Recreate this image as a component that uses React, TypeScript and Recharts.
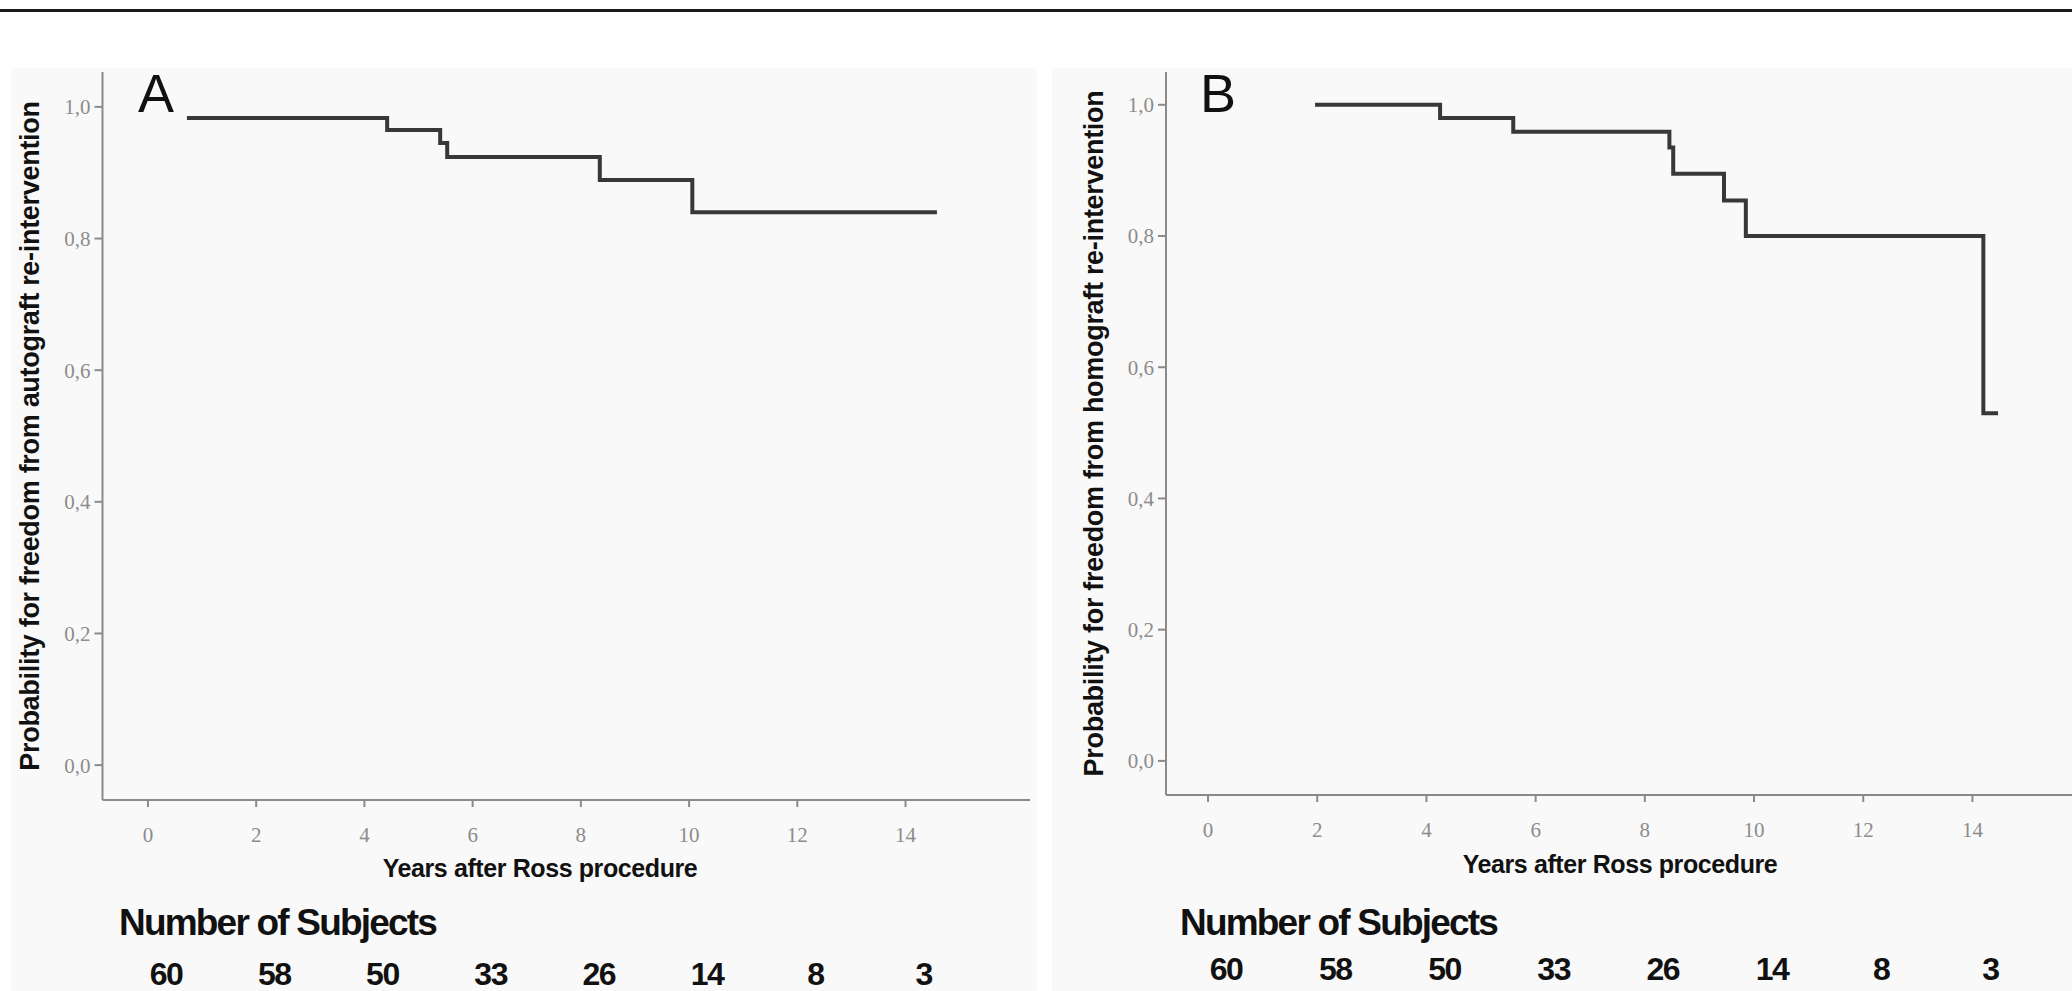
import React from 'react';
import { LineChart, Line, XAxis, YAxis } from 'recharts';

// Kaplan-Meier steps
const A_TIMES = [0.72, 4.42, 5.4, 5.53, 8.35, 10.06, 14.58];
const A_SURV = [0.983, 0.965, 0.945, 0.924, 0.889, 0.84, 0.84];
const B_TIMES = [1.96, 4.25, 5.59, 8.45, 8.52, 9.45, 9.85, 14.2, 14.47];
const B_SURV = [1.0, 0.98, 0.959, 0.935, 0.895, 0.854, 0.8, 0.53, 0.53];

const YEAR_TICKS = [0, 2, 4, 6, 8, 10, 12, 14];
const Y_TICKS = [0, 0.2, 0.4, 0.6, 0.8, 1.0];
const SUBJECTS_A = [60, 58, 50, 33, 26, 14, 8, 3];
const SUBJECTS_B = [60, 58, 50, 33, 26, 14, 8, 3];

const AXIS = '#8a8a8a';
const SANS = '"Liberation Sans", Arial, sans-serif';
const SERIF = '"Liberation Serif", "Times New Roman", serif';

const toRows = (t: number[], s: number[]) => t.map((x, i) => ({ t: x, s: s[i] }));

function YearTick(props: any) {
  const { x, y, payload, counts } = props;
  const idx = YEAR_TICKS.indexOf(payload.value);
  return (
    <g>
      <text x={x} y={y + 22} textAnchor="middle" dominantBaseline="central" fill="#8c8c8c" fontFamily={SERIF} fontSize={21}>
        {payload.value}
      </text>
      {idx >= 0 && (
        <text x={x + 18} y={y + 161} textAnchor="middle" dominantBaseline="central" fill="#111" fontFamily={SANS} fontWeight="bold" fontSize={32} letterSpacing={-1.5}>
          {counts[idx]}
        </text>
      )}
    </g>
  );
}

interface PanelProps {
  left: number;
  width: number;
  marginLeft: number;
  marginRight: number;
  axisY: number;
  xDomain: [number, number];
  yDomain: [number, number];
  rows: { t: number; s: number }[];
  counts: number[];
  yTitle: string;
}

function Panel(p: PanelProps) {
  const H = 991;
  return (
    <div style={{ position: 'absolute', left: p.left, top: 0 }}>
      <LineChart width={p.width} height={H} data={p.rows} margin={{ top: 72, right: p.marginRight, bottom: 0, left: p.marginLeft }}>
        <XAxis
          type="number"
          dataKey="t"
          domain={p.xDomain}
          ticks={YEAR_TICKS}
          allowDataOverflow
          height={H - p.axisY}
          stroke={AXIS}
          strokeWidth={2}
          tickSize={7}
          tickMargin={6}
          tick={<YearTick counts={p.counts} />}
          interval={0}
        />
        <YAxis
          type="number"
          domain={p.yDomain}
          ticks={Y_TICKS}
          allowDataOverflow
          width={100}
          stroke={AXIS}
          strokeWidth={2}
          tickSize={8}
          tickMargin={4}
          tick={{ fill: '#8c8c8c', fontFamily: SERIF, fontSize: 21 }}
          tickFormatter={(v: number) => v.toFixed(1).replace('.', ',')}
          label={{
            value: p.yTitle,
            angle: -90,
            position: 'insideLeft',
            offset: 27,
            style: { textAnchor: 'middle', fontFamily: SANS, fontWeight: 'bold', fontSize: 27, fill: '#111', letterSpacing: -0.3 },
          }}
        />
        <Line type="stepAfter" dataKey="s" stroke="#383838" strokeWidth={4} dot={false} isAnimationActive={false} />
      </LineChart>
    </div>
  );
}

const textStyle: React.CSSProperties = { position: 'absolute', fontFamily: SANS, color: '#111', whiteSpace: 'nowrap' };

export default function App() {
  return (
    <div style={{ position: 'absolute', left: 0, top: 0, width: 2072, height: 991, overflow: 'hidden', background: '#fff' }}>
      <div style={{ position: 'absolute', left: 0, top: 9, width: 2072, height: 3, background: '#1a1a1a' }} />
      <div style={{ position: 'absolute', left: 11, top: 68, width: 1026, height: 923, background: '#f9f9f9' }} />
      <div style={{ position: 'absolute', left: 1052, top: 68, width: 1020, height: 923, background: '#f9f9f9' }} />

      <Panel
        left={0}
        width={1050}
        marginLeft={2.5}
        marginRight={20}
        axisY={800}
        xDomain={[-0.84, 16.3]}
        yDomain={[-0.053, 1.053]}
        rows={toRows(A_TIMES, A_SURV)}
        counts={SUBJECTS_A}
        yTitle="Probability for freedom from autograft re-intervention"
      />
      <Panel
        left={1066}
        width={1054}
        marginLeft={0}
        marginRight={22}
        axisY={795}
        xDomain={[-0.77, 16.3]}
        yDomain={[-0.052, 1.05]}
        rows={toRows(B_TIMES, B_SURV)}
        counts={SUBJECTS_B}
        yTitle="Probability for freedom from homograft re-intervention"
      />

      <div style={{ ...textStyle, left: 138, top: 62, fontSize: 54 }}>A</div>
      <div style={{ ...textStyle, left: 1200, top: 62, fontSize: 54 }}>B</div>

      <div style={{ ...textStyle, left: 540, top: 854, transform: 'translateX(-50%)', fontSize: 25, fontWeight: 'bold', letterSpacing: -0.4 }}>Years after Ross procedure</div>
      <div style={{ ...textStyle, left: 1620, top: 850, transform: 'translateX(-50%)', fontSize: 25, fontWeight: 'bold', letterSpacing: -0.4 }}>Years after Ross procedure</div>

      <div style={{ ...textStyle, left: 119, top: 902, fontSize: 37, fontWeight: 'bold', letterSpacing: -1.8 }}>Number of Subjects</div>
      <div style={{ ...textStyle, left: 1180, top: 902, fontSize: 37, fontWeight: 'bold', letterSpacing: -1.8 }}>Number of Subjects</div>
    </div>
  );
}
